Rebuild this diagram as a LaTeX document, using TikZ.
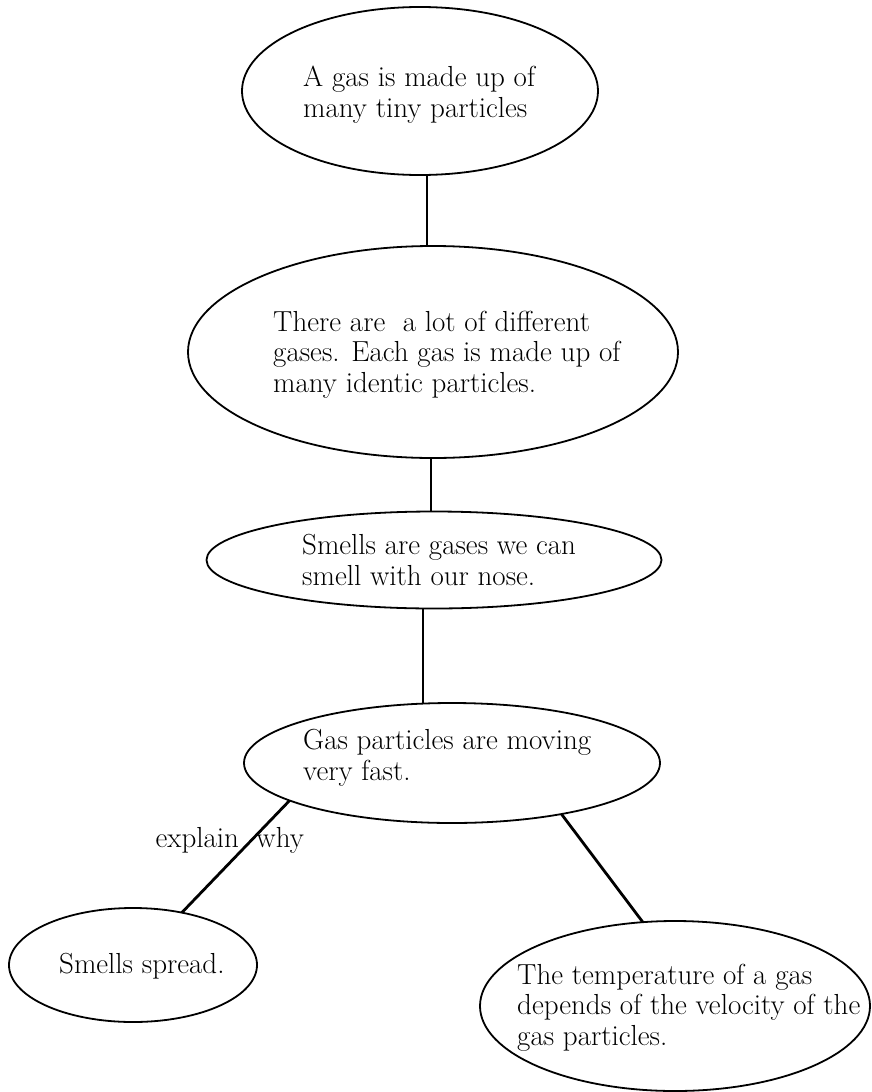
\documentclass[tikz,border=0pt]{standalone}
\usepackage{tikz}
\usetikzlibrary{shapes.geometric,calc}
\tikzset{
	bubble/.style={draw, ellipse, line width=1.8pt, inner sep=0pt, outer sep=0pt},
	words/.style={anchor=base west, align=left, inner sep=0pt, font=\fontsize{29}{30.5}\selectfont},
	link/.style={line width=2.8pt}
}

\begin{document}
\begin{tikzpicture}[x=1pt, y=-1pt]
				%%%%% START %%%%%
				\useasboundingbox (0,0) rectangle (871,1092);
				
				\node[bubble, minimum width=356pt, minimum height=168pt] (gas) at (420,91) {};
				\node[words] (gastxt) at (303,117) {A gas is made up of\\many tiny particles};
				
				\node[bubble, minimum width=490pt, minimum height=212pt] (kinds) at (433,352) {};
				\node[words] (kindstxt) at (273,392) {There are~ a lot of different\\gases. Each gas is made up of\\many identic particles.};
				
				\node[bubble, minimum width=455pt, minimum height=97pt] (smell) at (434,560) {};
				\node[words] (smelltxt) at (302,585) {Smells are gases we can\\smell with our nose.};
				
				\node[bubble, minimum width=416pt, minimum height=120pt] (move) at (452,763) {};
				\node[words] (movetxt) at (303,780) {Gas particles are moving\\very fast.};
				
				\node[bubble, minimum width=248pt, minimum height=114pt] (spread) at (133,965) {};
				\node[words] (spreadtxt) at (59,973) {Smells spread.};
				
				\node[bubble, minimum width=390pt, minimum height=170pt] (temp) at (675,1006) {};
				\node[words] (temptxt) at (517,1045) {The temperature of a gas\\depends of the velocity of the\\gas particles.};
				
				\draw[link] ($(gas.south)+(7,0)$) -- ($(kinds.north)+(-6,0)$);
				\draw[link] ($(kinds.south)+(-2,0)$) -- ($(smell.north)+(-3,0)$);
				\draw[link] ($(smell.south)+(-11,0)$) -- ($(move.north)+(-29,0)$);
				\draw[link] (move.193.6) -- node[pos=0.36, xshift=-21pt, font=\fontsize{29}{30.5}\selectfont, inner sep=0pt] (why) {explain~~why} (spread.47);
				\draw[link] (move.335.9) -- (temp.111.4);
				%%%%% END %%%%%
\end{tikzpicture}
\end{document}
